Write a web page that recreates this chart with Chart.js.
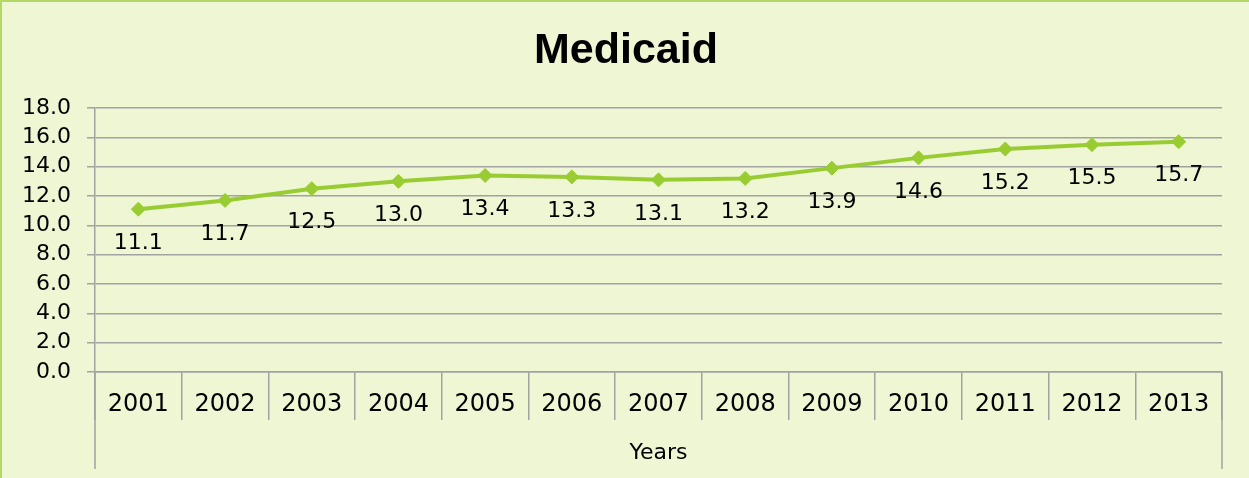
<!DOCTYPE html>
<html>
<head>
<meta charset="utf-8">
<script src="https://cdn.jsdelivr.net/npm/chart.js@4"></script>
<style>
  html, body { margin: 0; padding: 0; background: #EEF6D3; }
  #wrap { width: 1249px; height: 478px; position: relative; }
  canvas { display: block; }
</style>
</head>
<body>
<div id="wrap"><canvas id="c" width="1249" height="478"></canvas></div>
<script>
const years = ['2001','2002','2003','2004','2005','2006','2007','2008','2009','2010','2011','2012','2013'];
const medicaid = [11.1, 11.7, 12.5, 13.0, 13.4, 13.3, 13.1, 13.2, 13.9, 14.6, 15.2, 15.5, 15.7];
const yTickValues = [0, 2, 4, 6, 8, 10, 12, 14, 16, 18];
const chartTitle = 'Medicaid';
const xAxisTitle = 'Years';

const BG = '#EEF6D3';
const BORDER_GREEN = '#B2D965';
const LINE_GREEN = '#99CC33';
const GRID = '#A2A2A2';
const TICK_FONT = 'DejaVu Sans';

const backgroundPlugin = {
  id: 'bg',
  beforeDraw(chart) {
    const ctx = chart.ctx;
    ctx.save();
    ctx.fillStyle = BG;
    ctx.fillRect(0, 0, chart.width, chart.height);
    ctx.fillStyle = BORDER_GREEN;
    ctx.fillRect(0, 0, chart.width, 2);
    ctx.fillRect(0, 0, 2, chart.height);
    ctx.restore();
  }
};

const titlePlugin = {
  id: 'centeredTitle',
  afterDraw(chart) {
    const ctx = chart.ctx;
    ctx.save();
    ctx.font = 'bold 43px "Liberation Sans"';
    ctx.fillStyle = '#000';
    ctx.textAlign = 'center';
    ctx.textBaseline = 'middle';
    ctx.fillText(chartTitle, chart.width / 2 + 1.5, 51);
    ctx.restore();
  }
};

const edgeLinesPlugin = {
  id: 'edgeLines',
  afterDraw(chart) {
    const ctx = chart.ctx;
    const a = chart.chartArea;
    const xs = chart.scales.x;
    ctx.save();
    ctx.strokeStyle = GRID;
    ctx.lineWidth = 1.5;
    ctx.beginPath();
    [a.left, a.right].forEach(px => {
      ctx.moveTo(px, a.bottom);
      ctx.lineTo(px, xs.bottom - 9);
    });
    ctx.stroke();
    ctx.restore();
  }
};

const dataLabelsPlugin = {
  id: 'dataLabels',
  afterDatasetsDraw(chart) {
    const ctx = chart.ctx;
    const meta = chart.getDatasetMeta(0);
    const ds = chart.data.datasets[0];
    ctx.save();
    ctx.font = '22px "' + TICK_FONT + '"';
    ctx.fillStyle = '#000';
    ctx.textAlign = 'center';
    ctx.textBaseline = 'middle';
    meta.data.forEach((pt, i) => {
      ctx.fillText(ds.data[i].toFixed(1), pt.x, pt.y + 34);
    });
    ctx.restore();
  }
};

new Chart(document.getElementById('c'), {
  type: 'line',
  data: {
    labels: years,
    datasets: [{
      label: chartTitle,
      data: medicaid,
      borderColor: LINE_GREEN,
      backgroundColor: LINE_GREEN,
      borderWidth: 4,
      tension: 0,
      pointStyle: 'rectRot',
      pointRadius: 7,
      pointBorderWidth: 1,
      pointBorderColor: LINE_GREEN,
      pointBackgroundColor: LINE_GREEN,
      fill: false
    }]
  },
  options: {
    responsive: false,
    animation: false,
    layout: { padding: { top: 108, left: 0, right: 27, bottom: 0 } },
    plugins: {
      legend: { display: false },
      tooltip: { enabled: false },
      title: { display: false }
    },
    scales: {
      x: {
        type: 'category',
        offset: true,
        grid: {
          offset: true,
          drawOnChartArea: false,
          drawTicks: true,
          tickLength: 48,
          color: GRID,
          lineWidth: 1.5
        },
        border: { display: true, color: GRID, width: 1.5 },
        ticks: {
          color: '#000',
          font: { family: TICK_FONT, size: 24, lineHeight: 1.2 },
          padding: -30,
          maxRotation: 0,
          autoSkip: false
        },
        title: {
          display: true,
          text: xAxisTitle,
          color: '#000',
          font: { family: TICK_FONT, size: 22, lineHeight: 1.2 },
          padding: { top: 0, bottom: 12 }
        },
        afterFit(scale) { scale.height = 106; }
      },
      y: {
        min: 0,
        max: 18,
        afterBuildTicks(scale) { scale.ticks = yTickValues.map(v => ({ value: v })); },
        grid: {
          color: GRID,
          lineWidth: 1.5,
          tickLength: 8
        },
        border: { display: true, color: GRID, width: 1.5 },
        ticks: {
          color: '#000',
          autoSkip: false,
          font: { family: TICK_FONT, size: 22, lineHeight: 1.2 },
          padding: 16,
          callback: v => Number(v).toFixed(1)
        },
        afterFit(scale) { scale.width = 95; }
      }
    }
  },
  plugins: [backgroundPlugin, titlePlugin, edgeLinesPlugin, dataLabelsPlugin]
});
</script>
</body>
</html>
